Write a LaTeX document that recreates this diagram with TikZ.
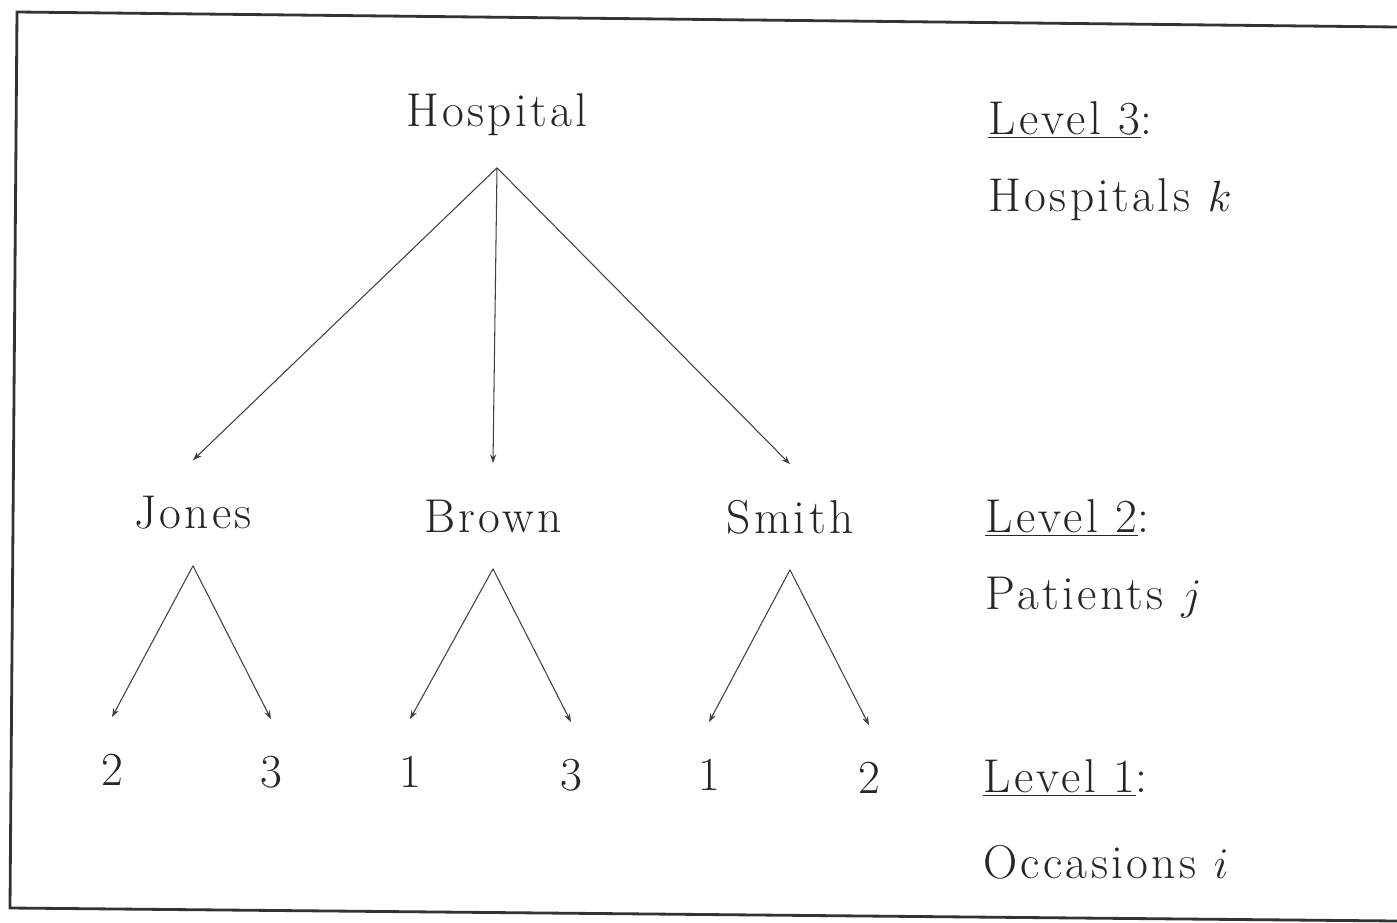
\documentclass[tikz,border=0pt]{standalone}
\usepackage{fontspec}
\setmainfont{Latin Modern Roman}[LetterSpace=7]
\usetikzlibrary{arrows.meta}
\newcommand{\reffont}{\fontsize{27}{32}\selectfont}
\begin{document}
\begin{tikzpicture}[x=0.02cm,y=-0.02cm,
  lbl/.style={font=\reffont, inner sep=0pt, minimum height=2.1cm, text=black!85},
  lvl/.style={font=\reffont, anchor=west, inner sep=0pt, text=black!85},
  arr/.style={-{Stealth[length=5pt,width=3.5pt]}, line width=0.6pt, draw=black!75},
  frame/.style={line width=1.6pt, draw=black!80}]
\useasboundingbox (0,0) rectangle (1397,923);
% frame
\draw[frame] (1397,27) -- (17,12) -- (10,908) -- (1397,921);
% nodes
\node[lbl] (hosp) at (497,115) {Hospital};
\node[lbl] (jones) at (193,513) {Jones};
\node[lbl] (brown) at (493,516) {Brown};
\node[lbl] (smith) at (790,517) {Smith};
\node[lbl] (j2) at (112,770) {2};
\node[lbl] (j3) at (271,772) {3};
\node[lbl] (b1) at (410,772) {1};
\node[lbl] (b3) at (571,775) {3};
\node[lbl] (s1) at (709,775) {1};
\node[lbl] (s2) at (869,778) {2};
% level labels
\node[lvl] (l3) at (988,120) {\underline{Level 3}:};
\node[lvl] (l3b) at (988,200) {Hospitals $k$};
\node[lvl] (l2) at (985,518) {\underline{Level 2}:};
\node[lvl] (l2b) at (985,598) {Patients $j$};
\node[lvl] (l1) at (983,778) {\underline{Level 1}:};
\node[lvl] (l1b) at (983,862) {Occasions $i$};
% connectors
\draw[arr] (hosp.south) -- (jones.north);
\draw[arr] (hosp.south) -- (brown.north);
\draw[arr] (hosp.south) -- (smith.north);
\draw[arr] (jones.south) -- (j2.north);
\draw[arr] (jones.south) -- (j3.north);
\draw[arr] (brown.south) -- (b1.north);
\draw[arr] (brown.south) -- (b3.north);
\draw[arr] (smith.south) -- (s1.north);
\draw[arr] (smith.south) -- (s2.north);
\end{tikzpicture}
\end{document}
